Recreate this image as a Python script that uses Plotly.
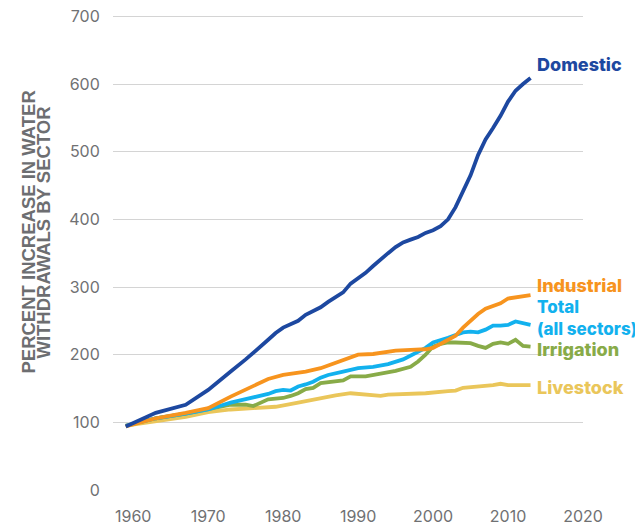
import plotly.graph_objects as go

# ---- data ----
domestic_years = [1959, 1963, 1967, 1970, 1973, 1975, 1978, 1979, 1980, 1982, 1983, 1984, 1985, 1986, 1987,
                  1988, 1989, 1990, 1991, 1992, 1993, 1994, 1995, 1996, 1997, 1998, 1999, 2000, 2001, 2002,
                  2003, 2004, 2005, 2006, 2007, 2008, 2009, 2010, 2011, 2012, 2013]
domestic_vals = [94, 114, 126, 148, 175, 193, 222, 232, 240, 250, 259, 264, 270, 278, 285,
                 292, 305, 313, 321, 331, 341, 350, 359, 366, 370, 374, 380, 384, 390, 400,
                 418, 440, 465, 495, 518, 535, 553, 574, 590, 600, 609]

industrial_years = [1959, 1963, 1967, 1970, 1973, 1975, 1978, 1980, 1983, 1985, 1986, 1988, 1990, 1992, 1993,
                    1995, 1997, 1999, 2000, 2002, 2003, 2004, 2005, 2006, 2007, 2008, 2009, 2010, 2011, 2012, 2013]
industrial_vals = [94, 106, 114, 121, 138, 148, 164, 170, 175, 180, 184, 193, 200, 201, 203,
                   206, 207, 208, 210, 222, 228, 240, 250, 260, 268, 272, 276, 283, 285, 287, 288]

total_years = [1959, 1963, 1967, 1970, 1973, 1976, 1978, 1979, 1980, 1981, 1982, 1983, 1984, 1985, 1986,
               1988, 1990, 1992, 1994, 1996, 1998, 1999, 2000, 2001, 2002, 2003, 2004, 2005, 2006, 2007,
               2008, 2009, 2010, 2011, 2012, 2013]
total_vals = [95, 106, 113, 119, 129, 136, 142, 146, 148, 147, 153, 156, 160, 166, 170,
              175, 180, 182, 186, 193, 204, 210, 218, 221, 225, 229, 233, 234, 233, 237,
              243, 243, 244, 249, 246, 244]

irrigation_years = [1959, 1963, 1967, 1970, 1973, 1975, 1976, 1978, 1979, 1980, 1981, 1982, 1983, 1984, 1985,
                    1986, 1988, 1989, 1991, 1993, 1995, 1997, 1998, 1999, 2000, 2001, 2002, 2003, 2005, 2006,
                    2007, 2008, 2009, 2010, 2011, 2012, 2013]
irrigation_vals = [95, 106, 113, 119, 126, 126, 124, 134, 135, 136, 139, 143, 149, 151, 158,
                   159, 162, 168, 168, 172, 176, 182, 190, 200, 212, 216, 218, 218, 217, 213,
                   210, 216, 218, 216, 222, 213, 212]

livestock_years = [1959, 1963, 1967, 1970, 1973, 1976, 1979, 1982, 1985, 1987, 1989, 1991, 1993, 1994, 1999,
                   2002, 2003, 2004, 2007, 2008, 2009, 2010, 2011, 2013]
livestock_vals = [95, 101, 108, 115, 119, 121, 123, 129, 136, 140, 143, 141, 139, 141, 143,
                  146, 147, 151, 153, 155, 157, 155, 155, 155]

x_ticks = [1960, 1970, 1980, 1990, 2000, 2010, 2020]
y_ticks = [0, 100, 200, 300, 400, 500, 600, 700]

series = [
    ("Livestock", livestock_years, livestock_vals, "#eac65a"),
    ("Irrigation", irrigation_years, irrigation_vals, "#88ab48"),
    ("Total (all sectors)", total_years, total_vals, "#12b1ee"),
    ("Industrial", industrial_years, industrial_vals, "#f7941e"),
    ("Domestic", domestic_years, domestic_vals, "#1d48a0"),
]

fig = go.Figure()
for name, xs, ys, col in series:
    fig.add_trace(go.Scatter(x=xs, y=ys, mode="lines", name=name,
                             line=dict(color=col, width=3.8), hoverinfo="skip"))

labels = [
    ("Domestic", 629, "#1d48a0", 18),
    ("Industrial", 302, "#f7941e", 18),
    ("Total<br>(all sectors)", 254, "#12b1ee", 17),
    ("Irrigation", 207, "#88ab48", 18),
    ("Livestock", 151, "#eac65a", 18),
]
for txt, yv, col, fs in labels:
    fig.add_annotation(x=2013.6, y=yv, xref="x", yref="y", text=txt, showarrow=False,
                       xanchor="left", yanchor="middle", align="left",
                       font=dict(family="Inter", size=fs, weight=800, color=col))

title_font = dict(family="Liberation Sans", size=18.5, weight="bold", color="#6d6e71")
fig.add_annotation(x=0, y=0.542, xref="paper", yref="paper", xshift=-84,
                   text="PERCENT INCREASE IN WATER", textangle=-90, showarrow=False,
                   xanchor="center", yanchor="middle", font=title_font)
fig.add_annotation(x=0, y=0.542, xref="paper", yref="paper", xshift=-69,
                   text="WITHDRAWALS BY SECTOR", textangle=-90, showarrow=False,
                   xanchor="center", yanchor="middle", font=title_font)

tick_font = dict(family="Inter", size=16, color="#707173")
fig.update_xaxes(range=[1957.3, 2020], tickvals=x_ticks, showgrid=False, zeroline=False,
                 showline=False, ticks="outside", ticklen=12, tickcolor="rgba(0,0,0,0)",
                 tickfont=tick_font, automargin=False, ticklabeloverflow="allow")
fig.update_yaxes(range=[0, 702], tickvals=y_ticks, showgrid=True, gridcolor="#d4d4d4",
                 gridwidth=1.3, zeroline=False, showline=False, ticks="outside", ticklen=9,
                 tickcolor="rgba(0,0,0,0)", tickfont=tick_font, automargin=False,
                 ticklabeloverflow="allow")

# page body has an 8px default margin; the figure is sized/offset to compensate
fig.update_layout(width=635, height=521,
                  margin=dict(l=105, r=60, t=6.6, b=39, autoexpand=False),
                  plot_bgcolor="white", paper_bgcolor="white", showlegend=False,
                  hovermode=False)

fig.write_html("out.html")
